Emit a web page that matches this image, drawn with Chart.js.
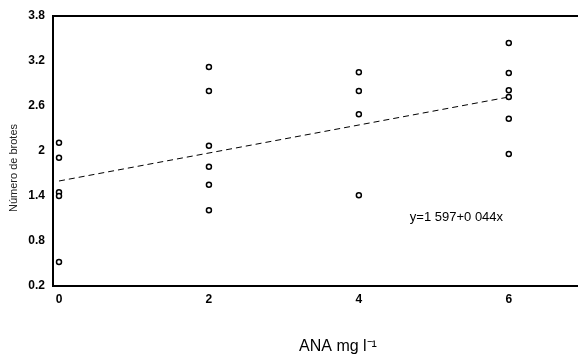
<!DOCTYPE html>
<html>
<head>
<meta charset="utf-8">
<script src="https://cdn.jsdelivr.net/npm/chart.js@4"></script>
<style>
  html, body { margin: 0; padding: 0; background: #fff; overflow: hidden; }
  canvas { display: block; }
</style>
</head>
<body>
<canvas id="myChart" width="578" height="361"></canvas>
<script>
// ANA doses and the observed values at each dose
const dose0 = [2.11, 1.91, 1.45, 1.40, 0.52];
const dose2 = [3.12, 2.80, 2.07, 1.79, 1.55, 1.21];
const dose4 = [3.05, 2.80, 2.49, 1.41];
const dose6 = [3.44, 3.04, 2.81, 2.72, 2.43, 1.96];
const doseX = [0, 2, 4, 6];

// fitted line endpoints as drawn
const fitX = [0, 6];
const fitY = [1.60, 2.72];

const xTicks = [0, 2, 4, 6];
const yTicks = [0.2, 0.8, 1.4, 2, 2.6, 3.2, 3.8];

const yTitle = 'Número de brotes';
const xTitle = 'ANA mg l⁻¹';
const eqText = 'y=1 597+0 044x';

const groups = [dose0, dose2, dose4, dose6];
const points = [];
groups.forEach(function (g, i) {
    g.forEach(function (v) { points.push({ x: doseX[i], y: v }); });
});

const textPlugin = {
    id: 'extras',
    afterDraw: function (chart) {
        const ctx = chart.ctx;
        const area = chart.chartArea;
        const xAxisY = chart.scales.x.top;
        ctx.save();
        // frame lines run to the right edge of the picture
        ctx.strokeStyle = '#000';
        ctx.lineWidth = 2;
        ctx.beginPath();
        ctx.moveTo(area.left, area.top);
        ctx.lineTo(chart.width, area.top);
        ctx.moveTo(area.right - 4, xAxisY);
        ctx.lineTo(chart.width, xAxisY);
        ctx.stroke();

        ctx.fillStyle = '#000';
        // equation
        ctx.font = '13px "Liberation Sans", Arial, sans-serif';
        ctx.textBaseline = 'middle';
        ctx.textAlign = 'left';
        ctx.fillText(eqText, chart.scales.x.getPixelForValue(4.68), chart.scales.y.getPixelForValue(1.11));

        // x title
        ctx.font = '16px "Liberation Sans", Arial, sans-serif';
        ctx.textAlign = 'center';
        ctx.fillText(xTitle, 338, 347);

        // y title
        ctx.translate(14, 168);
        ctx.rotate(-Math.PI / 2);
        ctx.font = '11px "Liberation Sans", Arial, sans-serif';
        ctx.fillStyle = '#222';
        ctx.fillText(yTitle, 0, 0);
        ctx.restore();
    }
};

const ctx = document.getElementById('myChart').getContext('2d');

new Chart(ctx, {
    type: 'scatter',
    data: {
        datasets: [{
            data: points,
            pointStyle: 'circle',
            pointRadius: 2.5,
            pointBorderWidth: 1.5,
            pointBorderColor: '#000',
            pointBackgroundColor: '#fff'
        }, {
            type: 'line',
            data: fitX.map(function (x, i) { return { x: x, y: fitY[i] }; }),
            borderColor: '#000',
            borderWidth: 1,
            borderDash: [6, 4],
            pointRadius: 0,
            fill: false
        }]
    },
    plugins: [textPlugin],
    options: {
        responsive: false,
        animation: false,
        layout: { padding: { top: 16, right: 0, left: 0, bottom: 0 } },
        plugins: {
            legend: { display: false },
            tooltip: { enabled: false }
        },
        scales: {
            x: {
                type: 'linear',
                min: -0.08,
                max: 6.85,
                afterBuildTicks: function (s) { s.ticks = xTicks.map(function (v) { return { value: v }; }); },
                afterFit: function (s) { s.height = 75; },
                grid: { display: false, drawTicks: false },
                border: { display: true, color: '#000', width: 2 },
                ticks: {
                    padding: 6,
                    color: '#000',
                    font: { family: '"Liberation Sans", Arial, sans-serif', size: 12, weight: 'bold' }
                }
            },
            y: {
                min: 0.2,
                max: 3.8,
                afterBuildTicks: function (s) { s.ticks = yTicks.map(function (v) { return { value: v }; }); },
                afterFit: function (s) { s.width = 53; },
                grid: { display: false, drawTicks: false },
                border: { display: true, color: '#000', width: 2 },
                ticks: {
                    padding: 8,
                    color: '#000',
                    callback: function (v) { return String(Math.round(v * 10) / 10); },
                    font: { family: '"Liberation Sans", Arial, sans-serif', size: 12, weight: 'bold' }
                }
            }
        }
    }
});
</script>
</body>
</html>
